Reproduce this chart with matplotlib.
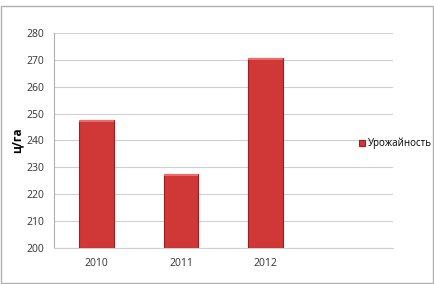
import matplotlib
matplotlib.use("Agg")
import matplotlib.pyplot as plt
from matplotlib.patches import Rectangle

plt.rcParams['font.family'] = ['Open Sans', 'DejaVu Sans']

categories = ["2010", "2011", "2012", ""]
values = [247.5, 227.5, 270.5, None]
series_name = "Урожайность"
y_label = "ц/га"
y_ticks = [200, 210, 220, 230, 240, 250, 260, 270, 280]

fig = plt.figure(figsize=(4.35, 2.84), dpi=100)
fig.patch.set_facecolor("white")
ax = fig.add_axes([0.124, 0.127, 0.779, 0.757])

x = list(range(len(categories)))
xs = [i for i, v in zip(x, values) if v is not None]
vs = [v for v in values if v is not None]
bars = ax.bar(xs, [v - 200 for v in vs], bottom=200, width=0.41,
              color="#d03838", edgecolor="#9a1f1f", linewidth=0.8,
              label=series_name, zorder=3)
# highlight at top of each bar
for b in bars:
    ax.add_patch(Rectangle((b.get_x(), b.get_y() + b.get_height() - 0.6),
                           b.get_width(), 0.6, facecolor="#f06a6a",
                           edgecolor="none", zorder=4))

ax.set_xlim(-0.5, len(categories) - 0.5)
ax.set_ylim(200, 280)
ax.set_yticks(y_ticks)
ax.set_xticks(x)
ax.set_xticklabels(categories)
ax.tick_params(axis="both", length=0, labelsize=7.5, colors="#333333", pad=7)
ax.yaxis.grid(True, color="#d0d0d0", linewidth=0.8, zorder=0)
for s in ["top", "right"]:
    ax.spines[s].set_visible(False)
ax.spines["left"].set_color("#b0b0b0")
ax.spines["bottom"].set_color("#d0d0d0")
ax.set_ylabel(y_label, fontsize=8.5, fontweight="bold", labelpad=2)

fig.legend(handles=[bars], labels=[series_name], loc="center left",
           bbox_to_anchor=(0.805, 0.495), frameon=False, fontsize=7,
           handlelength=0.6, handleheight=0.6, handletextpad=0.3)

fig.add_artist(Rectangle((0.003, 0.005), 0.992, 0.975, transform=fig.transFigure,
                         fill=False, edgecolor="#b0b0b0", linewidth=1))

fig.savefig("out.png", dpi=100, facecolor="white")
